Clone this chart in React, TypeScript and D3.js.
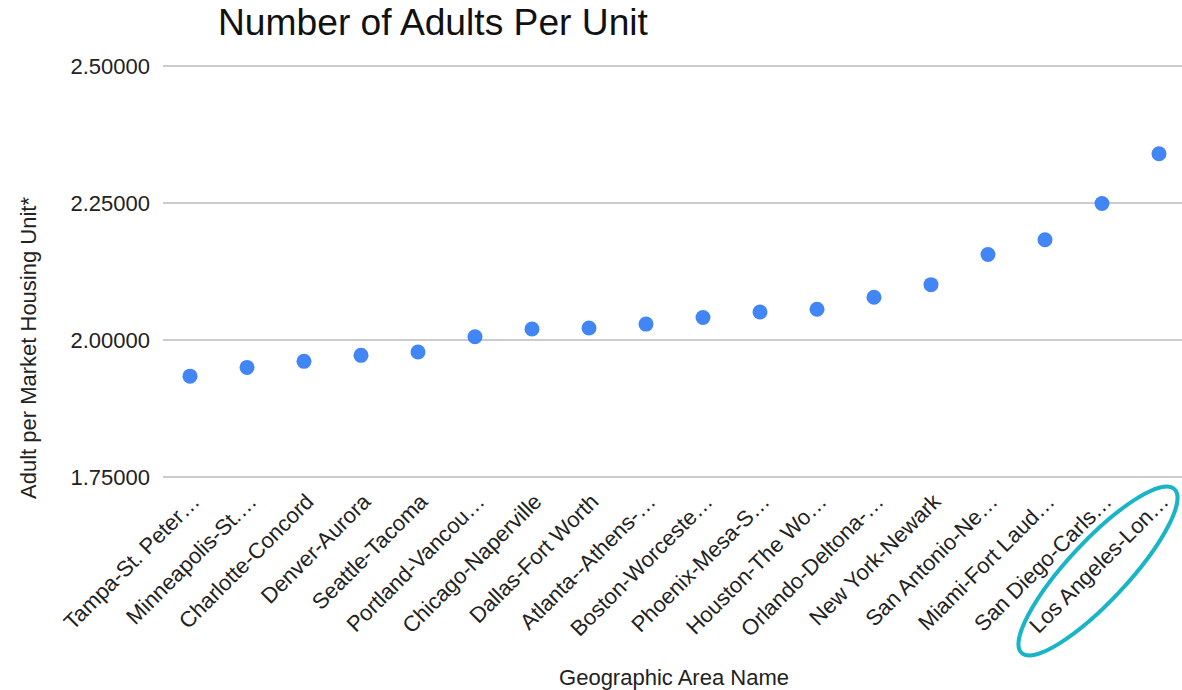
import React from "react";
import * as d3 from "d3";

const categories = [
  "Tampa-St. Peter…",
  "Minneapolis-St.…",
  "Charlotte-Concord",
  "Denver-Aurora",
  "Seattle-Tacoma",
  "Portland-Vancou…",
  "Chicago-Naperville",
  "Dallas-Fort Worth",
  "Atlanta--Athens-…",
  "Boston-Worceste…",
  "Phoenix-Mesa-S…",
  "Houston-The Wo…",
  "Orlando-Deltona-…",
  "New York-Newark",
  "San Antonio-Ne…",
  "Miami-Fort Laud…",
  "San Diego-Carls…",
  "Los Angeles-Lon…",
];

const values = [
  1.934, 1.95, 1.961, 1.972, 1.978, 2.006, 2.02, 2.022, 2.029, 2.041, 2.051,
  2.056, 2.078, 2.101, 2.156, 2.183, 2.249, 2.34,
];

const yTicks = [1.75, 2.0, 2.25, 2.5];
const highlighted = "Los Angeles-Lon…";

const title = "Number of Adults Per Unit";
const xTitle = "Geographic Area Name";
const yTitle = "Adult per Market Housing Unit*";

const W = 1182;
const H = 690;
const FONT = "'Liberation Sans', Arial, Helvetica, sans-serif";

export default function App() {
  const x = d3
    .scalePoint<string>()
    .domain(categories)
    .range([161.5, 1187.5])
    .padding(0.5);
  const y = d3.scaleLinear().domain([1.75, 2.5]).range([477, 66]);
  const fmt = d3.format(".5f");

  const hx = x(highlighted) as number;
  const ecx = hx - 61;
  const ecy = 571;

  return (
    <svg
      width={W}
      height={H}
      style={{ position: "absolute", left: 0, top: 0, background: "#fff" }}
      fontFamily={FONT}
    >
      <rect x={0} y={0} width={W} height={H} fill="#fff" />
      <text x={218} y={35} fontSize={37.2} fill="#111">
        {title}
      </text>

      {yTicks.map((t) => (
        <g key={t}>
          <line
            x1={163}
            x2={1182}
            y1={y(t)}
            y2={y(t)}
            stroke="#cccccc"
            strokeWidth={2}
          />
          <text
            x={150}
            y={y(t)}
            dy="0.36em"
            textAnchor="end"
            fontSize={22}
            fill="#222"
          >
            {fmt(t)}
          </text>
        </g>
      ))}

      <text
        transform={`translate(36,348) rotate(-90)`}
        textAnchor="middle"
        fontSize={22}
        fill="#222"
      >
        {yTitle}
      </text>

      {categories.map((c) => (
        <text
          key={c}
          transform={`translate(${(x(c) as number) + 11},503) rotate(-45)`}
          textAnchor="end"
          fontSize={22}
          fill="#222"
        >
          {c}
        </text>
      ))}

      <text x={674} y={685} textAnchor="middle" fontSize={22} fill="#222">
        {xTitle}
      </text>

      {categories.map((c, i) => (
        <circle
          key={c}
          cx={x(c) as number}
          cy={y(values[i])}
          r={7.5}
          fill="#4285f4"
        />
      ))}

      <ellipse
        cx={ecx}
        cy={ecy}
        rx={112}
        ry={30}
        transform={`rotate(-47,${ecx},${ecy})`}
        fill="none"
        stroke="#19b5c6"
        strokeWidth={4}
      />
    </svg>
  );
}
